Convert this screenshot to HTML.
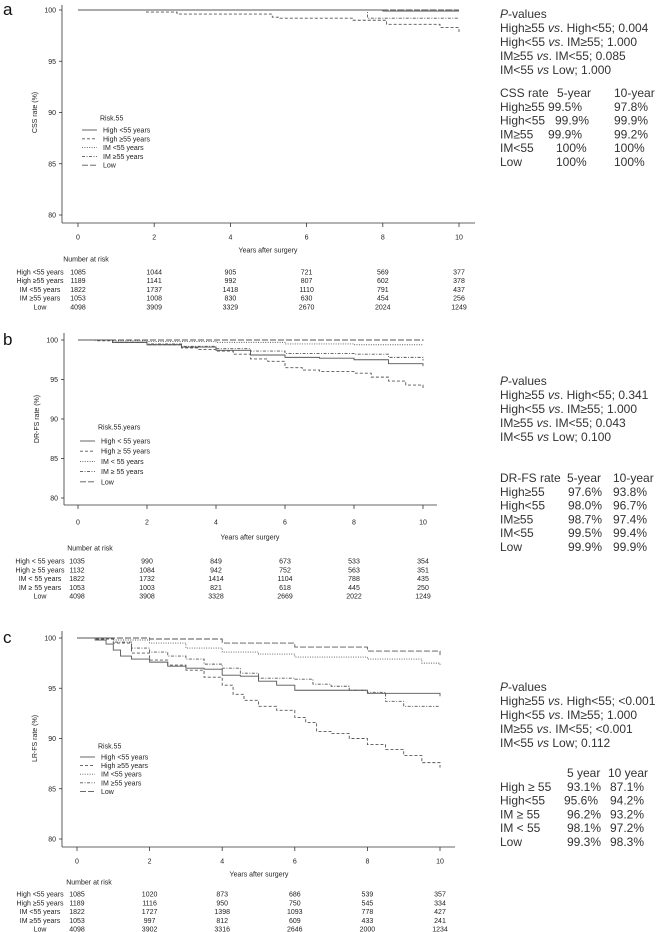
<!DOCTYPE html>
<html><head><meta charset="utf-8"><style>
html,body{margin:0;padding:0;background:#fff}
svg{display:block}
.s{font-family:"Liberation Sans",sans-serif;font-size:7px;fill:#222}
.r{font-family:"Liberation Sans","Noto Sans CJK JP",sans-serif;font-size:12px;fill:#333}
.pl{font-family:"Liberation Sans",sans-serif;font-size:17px;fill:#111}
</style></head><body>
<svg id="fig" width="666" height="932" viewBox="0 0 666 932" xmlns="http://www.w3.org/2000/svg"></svg>
<script>
// ---------- data ----------
const groups = ["High <55 years","High ≥55 years","IM <55 years","IM ≥55 years","Low"];
const groupsB = ["High < 55 years","High ≥ 55 years","IM < 55 years","IM ≥ 55 years","Low"];
const xTicks = [0,2,4,6,8,10];
const yTicks = [80,85,90,95,100];

// Panel a (CSS)
const aHighLtT=[0,8,10], aHighLtS=[100,99.9,99.9];
const aHighGeT=[0,1.8,2.6,5.1,5.3,7.2,8.1,9.5,10], aHighGeS=[100,99.8,99.6,99.3,99.2,99.0,98.6,98.3,97.8];
const aImLtT=[0,10], aImLtS=[100,100];
const aImGeT=[0,7.6,10], aImGeS=[100,99.2,99.2];
const aLowT=[0,10], aLowS=[100,100];
const aRisk=[[1085,1044,905,721,569,377],[1189,1141,992,807,602,378],[1822,1737,1418,1110,791,437],[1053,1008,830,630,454,256],[4098,3909,3329,2670,2024,1249]];

// Panel b (DR-FS)
const bHighLtT=[0,1,2,3,4,5,6,7,8,9,10], bHighLtS=[100,99.7,99.4,99.1,98.7,98.1,97.8,97.7,97.5,97.0,96.7];
const bHighGeT=[0,0.5,1,2,3,3.5,4,4.5,5,5.5,6,6.5,7,8,8.5,9,9.5,10], bHighGeS=[100,99.9,99.7,99.4,99.0,98.8,98.6,98.2,97.6,97.3,96.5,96.2,96.0,95.8,95.3,94.8,94.3,93.8];
const bImLtT=[0,1,2,4,6,8,10], bImLtS=[100,99.9,99.8,99.7,99.5,99.4,99.4];
const bImGeT=[0,1,2,3,4,5,6,7,8,9,10], bImGeS=[100,99.7,99.5,99.2,98.9,98.6,98.3,98.3,98.2,97.8,97.4];
const bLowT=[0,10], bLowS=[100,99.9];
const bRisk=[[1035,990,849,673,533,354],[1132,1084,942,752,563,351],[1822,1732,1414,1104,788,435],[1053,1003,821,618,445,250],[4098,3908,3328,2669,2022,1249]];

// Panel c (LR-FS)
const cHighLtT=[0,0.5,0.8,1,1.2,1.5,2,2.5,3,3.5,4,4.5,5,5.5,6,7,8,9,10], cHighLtS=[100,99.8,99.4,98.8,98.2,97.9,97.6,97.2,97.0,96.9,96.3,96.2,95.7,95.3,94.8,94.8,94.5,94.5,94.2];
const cHighGeT=[0,0.5,1,1.5,2,2.5,3,3.5,4,4.3,4.6,5,5.5,6,6.3,6.6,7,7.5,8,8.5,9,9.5,10], cHighGeS=[100,99.9,99.5,98.5,97.8,97.3,96.8,96.1,95.3,94.4,93.8,93.2,92.8,92.1,91.6,90.7,90.5,90.0,89.4,88.9,88.3,87.6,87.1];
const cImLtT=[0,1,2,3,4,5,6,7,8,9,9.5,10], cImLtS=[100,99.8,99.5,99.0,98.6,98.4,98.1,98.1,97.9,97.9,97.5,97.2];
const cImGeT=[0,1,1.5,2,2.5,3,3.5,4,4.5,5,5.5,6,6.5,7,7.5,8,8.5,9,10], cImGeS=[100,99.6,99.0,98.6,98.2,97.9,97.4,97.0,96.5,96.0,96.0,95.9,95.4,95.2,94.8,94.6,93.7,93.2,93.2];
const cLowT=[0,2,4,6,8,10], cLowS=[100,99.9,99.5,99.1,98.7,98.3];
const cRisk=[[1085,1020,873,686,539,357],[1189,1116,950,750,545,334],[1822,1727,1398,1093,778,427],[1053,997,812,609,433,241],[4098,3902,3316,2646,2000,1234]];

const dashes=["none","3,2","1,1.4","3,1.5,1,1.5","6,2"];
const NS="http://www.w3.org/2000/svg";
const svg=document.getElementById('fig');
function mk(tag,attrs,parent,text){const e=document.createElementNS(NS,tag);for(const k in attrs)e.setAttribute(k,attrs[k]);if(text!==undefined)e.textContent=text;(parent||svg).appendChild(e);return e;}

function panel(P){
  const g=mk('g',{});
  
  
  const X=t=>P.x0+(P.x10-P.x0)*t/10;
  const Y=v=>P.y100+(P.y80-P.y100)*(100-v)/20;
  const lab=mk('text',{x:3,y:P.y100+5,class:'pl'},g,P.id);
  
  
  const ya=mk('line',{x1:P.ax,y1:P.axTop,x2:P.ax,y2:P.axB,stroke:'#333','stroke-width':0.8},g);
  
  
  const xa=mk('line',{x1:P.ax,y1:P.axB,x2:P.axR,y2:P.axB,stroke:'#333','stroke-width':0.8},g);
  
  
  yTicks.forEach(v=>{
    mk('line',{x1:P.ax-3,y1:Y(v),x2:P.ax,y2:Y(v),stroke:'#333','stroke-width':0.8},g);
    const t=mk('text',{x:P.ax-6,y:Y(v)+2.5,class:'s','text-anchor':'end'},g,v);
    
    
  });
  xTicks.forEach(v=>{
    mk('line',{x1:X(v),y1:P.axB,x2:X(v),y2:P.axB+4,stroke:'#333','stroke-width':0.8},g);
    const t=mk('text',{x:X(v),y:P.tickY+2.5,class:'s','text-anchor':'middle'},g,v);
    
    
  });
  const yt=mk('text',{x:0,y:0,class:'s','text-anchor':'middle',transform:`translate(${P.ax-25},${(P.y100+P.y80)/2}) rotate(-90)`},g,P.ytitle);
  
  
  const xt=mk('text',{x:P.xtX,y:P.xtY+2.5,class:'s','text-anchor':'middle'},g,'Years after surgery');
  
  
  P.series.forEach((s,i)=>{
    let d=`M${X(s[0][0])},${Y(s[1][0])}`;
    for(let k=1;k<s[0].length;k++){d+=`H${X(s[0][k])}V${Y(s[1][k])}`;}
    const p=mk('path',{d:d,fill:'none',stroke:'#555','stroke-width':0.9,'stroke-dasharray':dashes[i]},g);
    
    
  });
  const lg=mk('g',{},g);
  
  
  mk('text',{x:P.legX+18,y:P.legTitleY+2.5,class:'s'},lg,P.legTitle);
  P.legNames.forEach((n,i)=>{
    const y=P.legY0+i*P.legDy;
    mk('line',{x1:P.legX,y1:y,x2:P.legX+15,y2:y,stroke:'#555','stroke-width':0.9,'stroke-dasharray':dashes[i]},lg);
    const t=mk('text',{x:P.legX+21,y:y+2.5,class:'s'},lg,n);
    
    
  });
  const rt=mk('g',{},g);
  
  
  mk('text',{x:P.narX,y:P.narY+2.5,class:'s','text-anchor':'middle'},rt,'Number at risk');
  P.risk.forEach((row,i)=>{
    const y=P.rowY0+i*P.rowDy+2.5;
    mk('text',{x:P.rlX,y:y,class:'s','text-anchor':'middle'},rt,P.rowNames[i]);
    row.forEach((v,j)=>{mk('text',{x:j===0?P.col0:X(xTicks[j]),y:y,class:'s','text-anchor':'middle'},rt,v);});
  });
}

panel({id:'a',x0:78,x10:459,y100:10,y80:215,ax:62,axTop:5,axB:223,axR:475,tickY:237,xtX:268,xtY:250,ytitle:'CSS rate (%)',
  series:[[aHighLtT,aHighLtS],[aHighGeT,aHighGeS],[aImLtT,aImLtS],[aImGeT,aImGeS],[aLowT,aLowS]],
  legX:82,legTitleY:118,legTitle:'Risk.55',legY0:130,legDy:8.8,legNames:groups,
  narX:86,narY:259,rowY0:272,rowDy:8.7,rlX:40,col0:78,risk:aRisk,rowNames:groups});
panel({id:'b',x0:78,x10:423,y100:340,y80:498,ax:64,axTop:333,axB:505,axR:437,tickY:522,xtX:250,xtY:537,ytitle:'DR-FS rate (%)',
  series:[[bHighLtT,bHighLtS],[bHighGeT,bHighGeS],[bImLtT,bImLtS],[bImGeT,bImGeS],[bLowT,bLowS]],
  legX:80,legTitleY:427,legTitle:'Risk.55.years',legY0:441,legDy:10.2,legNames:groupsB,
  narX:90,narY:548,rowY0:561,rowDy:8.75,rlX:40,col0:77,risk:bRisk,rowNames:groupsB});
panel({id:'c',x0:77,x10:440,y100:638,y80:839,ax:62,axTop:631,axB:847,axR:455,tickY:861,xtX:259,xtY:874,ytitle:'LR-FS rate (%)',
  series:[[cHighLtT,cHighLtS],[cHighGeT,cHighGeS],[cImLtT,cImLtS],[cImGeT,cImGeS],[cLowT,cLowS]],
  legX:80,legTitleY:746,legTitle:'Risk.55',legY0:757,legDy:8.6,legNames:groups,
  narX:89,narY:882,rowY0:894,rowDy:8.75,rlX:40,col0:77,risk:cRisk,rowNames:groups});

function pvals(y0,vals){
  const g=mk('g',{});
  
  
  const t0=mk('text',{x:500,y:y0+4,class:'r'},g);
  mk('tspan',{'font-style':'italic'},t0,'P');
  mk('tspan',{},t0,'-values');
  const lines=[['High≥55 ','vs','. High<55; '],['High<55 ','vs','. IM≥55;  '],['IM≥55 ','vs','. IM<55; '],['IM<55 ','vs',' Low; ']];
  lines.forEach((l,i)=>{
    const t=mk('text',{x:500,y:y0+14*(i+1)+4,class:'r'},g);
    mk('tspan',{},t,l[0]);mk('tspan',{'font-style':'italic'},t,l[1]);mk('tspan',{},t,l[2]+vals[i]);
  });
}
pvals(14,['0.004','1.000','0.085','1.000']);
pvals(381,['0.341','1.000','0.043','0.100']);
pvals(687,['<0.001','1.000','<0.001','0.112']);

function rateTable(name,y0,hdr,names,c1,c2,v1x,v2x,h1x,h2x){
  const g=mk('g',{});
  
  
  if(hdr[0])mk('text',{x:500,y:y0+4,class:'r'},g,hdr[0]);
  mk('text',{x:h1x,y:y0+4,class:'r'},g,hdr[1]);
  mk('text',{x:h2x,y:y0+4,class:'r'},g,hdr[2]);
  names.forEach((n,i)=>{
    const y=y0+13.8*(i+1)+4;
    mk('text',{x:500,y:y,class:'r'},g,n);
    mk('text',{x:v1x[i],y:y,class:'r'},g,c1[i]);
    mk('text',{x:v2x,y:y,class:'r'},g,c2[i]);
  });
}
const aRate5=['99.5%','99.9%','99.9%','100%','100%'], aRate10=['97.8%','99.9%','99.2%','100%','100%'];
const bRate5=['97.6%','98.0%','98.7%','99.5%','99.9%'], bRate10=['93.8%','96.7%','97.4%','99.4%','99.9%'];
const cRate5=['93.1%','95.6%','96.2%','98.1%','99.3%'], cRate10=['87.1%','94.2%','93.2%','97.2%','98.3%'];
rateTable('css-rate-table',93,['CSS rate','5-year','10-year'],['High≥55','High<55','IM≥55','IM<55','Low'],aRate5,aRate10,[548,555,548,556,556],614,557,614);
rateTable('drfs-rate-table',478,['DR-FS rate','5-year','10-year'],['High≥55','High<55','IM≥55','IM<55','Low'],bRate5,bRate10,[568,568,568,568,568],613,567,613);
rateTable('lrfs-rate-table',773,['','5 year','10 year'],['High ≥ 55','High<55','IM ≥  55','IM <  55','Low'],cRate5,cRate10,[567,564,567,567,567],610,567,608);
</script>
</body></html>
